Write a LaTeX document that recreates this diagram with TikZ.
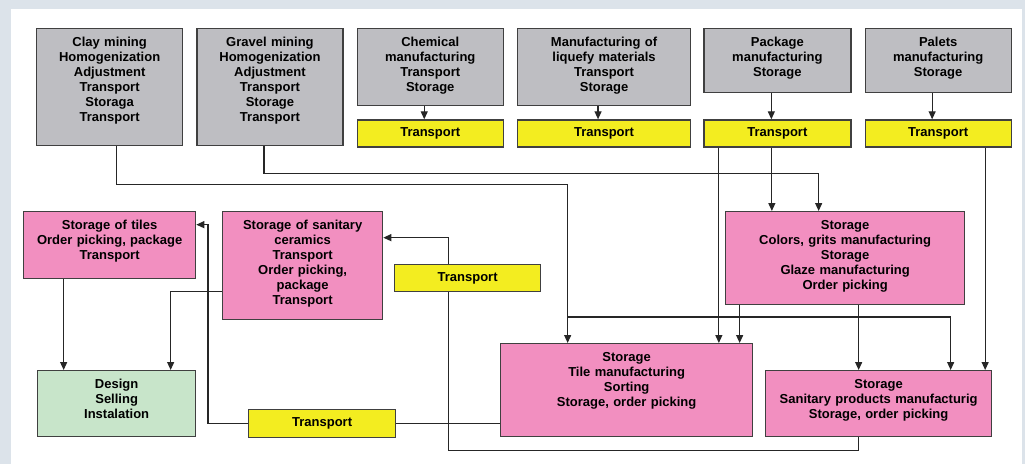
\documentclass[tikz,border=0pt]{standalone}
\usepackage{fontspec}
\setmainfont{Liberation Sans}
\usetikzlibrary{arrows.meta,positioning}
\definecolor{framebg}{RGB}{220,227,234}
\definecolor{rawgray}{RGB}{190,190,194}
\definecolor{trackyellow}{RGB}{243,237,32}
\definecolor{plantpink}{RGB}{242,143,192}
\definecolor{salegreen}{RGB}{200,229,202}
\tikzstyle{stage}=[
	rectangle,
	draw=black!75,
	line width=1.3pt,
	font=\fontsize{13}{15}\selectfont\bfseries,
	align=center,
	inner sep=0pt,
	text height=18pt,
	anchor=north west
]
\tikzstyle{raw}=[stage, fill=rawgray]
\tikzstyle{plant}=[stage, fill=plantpink]
\tikzstyle{sale}=[stage, fill=salegreen]
\tikzstyle{carry}=[
	rectangle,
	draw=black!75,
	line width=1.3pt,
	fill=trackyellow,
	font=\fontsize{13}{15}\selectfont\bfseries,
	inner sep=0pt,
	minimum height=27pt,
	anchor=north west
]
\tikzstyle{flow}=[
	-{Triangle[width=7pt,length=8pt]},
	line width=1.2pt,
	draw=black!85
]
\tikzstyle{link}=[
	line width=1.2pt,
	draw=black!85
]

\begin{document}
\begin{tikzpicture}[x=1pt,y=-1pt]
\useasboundingbox (0,0) rectangle (1025,464);
\fill[framebg] (0,0) rectangle (1025,464);
\fill[white] (11,9) rectangle (1022,464);
% raw materials
\node [raw, text width=146pt, text depth=99pt] (clay) at (36,28) {Clay mining\\Homogenization\\Adjustment\\Transport\\Storaga\\Transport};
\node [raw, text width=146pt, text depth=99pt] (gravel)[below right=0pt and 13pt of clay.north east] {Gravel mining\\Homogenization\\Adjustment\\Transport\\Storage\\Transport};
\node [raw, text width=146pt, text depth=59pt] (chem)[below right=0pt and 13pt of gravel.north east] {Chemical\\manufacturing\\Transport\\Storage};
\node [raw, text width=173pt, text depth=59pt] (liquefy)[below right=0pt and 13pt of chem.north east] {Manufacturing of\\liquefy materials\\Transport\\Storage};
\node [raw, text width=147pt, text depth=46pt] (package)[below right=0pt and 12pt of liquefy.north east] {Package\\manufacturing\\Storage};
\node [raw, text width=146pt, text depth=46pt] (palets)[below right=0pt and 13pt of package.north east] {Palets\\manufacturing\\Storage};
\node [carry, minimum width=146pt] (trchem)[below=13pt of chem.south west, anchor=north west] {Transport};
\node [carry, minimum width=173pt] (trliq)[below=13pt of liquefy.south west, anchor=north west] {Transport};
\node [carry, minimum width=147pt] (trpack)[below=26pt of package.south west, anchor=north west] {Transport};
\node [carry, minimum width=146pt] (trpal)[below=26pt of palets.south west, anchor=north west] {Transport};
% plants and storages
\node [plant, text width=239pt, text depth=75pt] (colors) at (725,211) {Storage\\Colors, grits manufacturing\\Storage\\Glaze manufacturing\\Order picking};
\node [plant, text width=252pt, text depth=75pt] (tile) at (500,343) {Storage\\Tile manufacturing\\Sorting\\Storage, order picking};
\node [plant, text width=226pt, text depth=48pt] (sanitary) at (765,370) {Storage\\Sanitary products manufacturig\\Storage, order picking};
\node [plant, text width=172pt, text depth=49pt] (tiles) at (23,211) {Storage of tiles\\Order picking, package\\Transport};
\node [plant, text width=160pt, text depth=90pt] (ceramics) at (222,211) {Storage of sanitary\\ceramics\\Transport\\Order picking,\\package\\Transport};
\node [carry, minimum width=146pt] (trmid) at (394,264) {Transport};
\node [carry, minimum width=147pt, minimum height=28pt] (trlow) at (248,409) {Transport};
\node [sale, text width=158pt, text depth=48pt] (design) at (37,370) {Design\\Selling\\Instalation};
% supply
\draw [flow] ([xshift=-6pt]chem.south) -- ([xshift=-6pt]trchem.north);
\draw [flow] ([xshift=-6pt]liquefy.south) -- ([xshift=-6pt]trliq.north);
\draw [flow] ([xshift=-6pt]package.south) -- ([xshift=-6pt]trpack.north);
\draw [flow] ([xshift=-6pt]palets.south) -- ([xshift=-6pt]trpal.north);
\draw [flow] ([xshift=7pt]clay.south) -- ++(0,38) -| ([xshift=-59pt]tile.north);
\draw [flow] ([xshift=-59pt]tile.north) ++(0,-26) -| ([xshift=72pt]sanitary.north);
\draw [flow] ([xshift=-6pt]gravel.south) -- ++(0,27) -| ([xshift=-26.5pt]colors.north);
\draw [flow] ([xshift=-58.5pt]trpack.south) -- ([xshift=-58.5pt]trpack.south |- tile.north);
\draw [flow] ([xshift=-5.5pt]trpack.south) -- ([xshift=-5.5pt]trpack.south |- colors.north);
\draw [flow] ([xshift=47pt]trpal.south) -- ([xshift=47pt]trpal.south |- sanitary.north);
\draw [flow] ([xshift=-105.5pt]colors.south) -- ([xshift=-105.5pt]colors.south |- tile.north);
\draw [flow] ([xshift=13.5pt]colors.south) -- ([xshift=13.5pt]colors.south |- sanitary.north);
% distribution
\draw [link] ([xshift=-20pt]sanitary.south) -- ++(0,13) -| ([xshift=-19pt]trmid.south);
\draw [flow] ([xshift=-19pt]trmid.north) |- ([yshift=28pt]ceramics.east);
\draw [link] ([yshift=-33.5pt]tile.west) -- (trlow.east);
\draw [flow] (trlow.west) -- ++(-40,0) |- ([yshift=20.5pt]tiles.east);
\draw [flow] ([xshift=-46pt]tiles.south) -- ([xshift=-46pt]tiles.south |- design.north);
\draw [flow] ([yshift=-26pt]ceramics.west) -| ([xshift=54pt]design.north);
\end{tikzpicture}
\end{document}
